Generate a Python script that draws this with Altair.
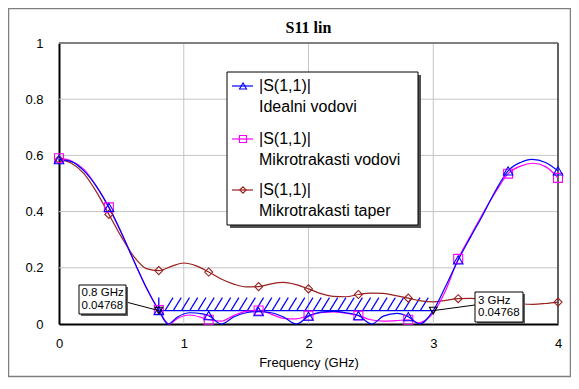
import altair as alt
import pandas as pd

# ---------------- data ----------------
ideal_freq = [0, 0.1, 0.2, 0.3, 0.4, 0.5, 0.6, 0.7, 0.8, 0.876, 0.95, 1.05, 1.15, 1.2,
              1.3, 1.4, 1.5, 1.6, 1.7, 1.8, 1.905, 2.0, 2.1, 2.2, 2.3, 2.4,
              2.507, 2.6, 2.71, 2.8, 2.89, 3.0, 3.1, 3.2, 3.3, 3.4, 3.5, 3.6, 3.7, 3.79, 3.9, 4.0]
ideal_val = [0.585, 0.578, 0.545, 0.49, 0.415, 0.325, 0.225, 0.13, 0.048, 0.0, 0.025, 0.04, 0.036, 0.03,
             0.0, 0.025, 0.04, 0.044, 0.04, 0.025, 0.0, 0.028, 0.042, 0.045, 0.04, 0.03,
             0.0, 0.028, 0.038, 0.026, 0.0, 0.048, 0.135, 0.228, 0.31, 0.39, 0.475, 0.545, 0.575, 0.586, 0.575, 0.545]

micro_freq = [0, 0.1, 0.2, 0.3, 0.4, 0.5, 0.6, 0.7, 0.8, 0.88, 0.95, 1.05, 1.15, 1.2,
              1.3, 1.4, 1.5, 1.6, 1.7, 1.8, 1.9, 2.0, 2.1, 2.2, 2.3, 2.4,
              2.5, 2.6, 2.7, 2.8, 2.88, 2.95, 3.0, 3.1, 3.2, 3.3, 3.4, 3.5, 3.6, 3.7, 3.8, 3.9, 4.0]
micro_val = [0.59, 0.58, 0.55, 0.49, 0.415, 0.325, 0.225, 0.128, 0.05, 0.0, 0.02, 0.032, 0.022, 0.015,
             0.01, 0.03, 0.045, 0.048, 0.035, 0.02, 0.018, 0.03, 0.04, 0.043, 0.038, 0.03,
             0.015, 0.01, 0.012, 0.015, 0.004, 0.018, 0.04, 0.12, 0.232, 0.315, 0.395, 0.47, 0.535, 0.562, 0.572, 0.56, 0.52]

taper_freq = [0, 0.1, 0.2, 0.3, 0.4, 0.5, 0.6, 0.7, 0.8, 0.9, 1.0, 1.1, 1.2, 1.3, 1.4, 1.5, 1.6, 1.7, 1.8, 1.9,
              2.0, 2.1, 2.2, 2.3, 2.4, 2.5, 2.6, 2.7, 2.8, 2.9, 3.0, 3.1, 3.2, 3.3, 3.4, 3.5, 3.6, 3.7, 3.8, 3.9, 4.0]
taper_val = [0.585, 0.572, 0.535, 0.47, 0.39, 0.31, 0.24, 0.197, 0.19, 0.205, 0.217, 0.207, 0.185, 0.16, 0.142,
             0.132, 0.133, 0.143, 0.148, 0.14, 0.125, 0.108, 0.098, 0.097, 0.105, 0.11, 0.109, 0.101, 0.092,
             0.082, 0.079, 0.084, 0.09, 0.091, 0.088, 0.083, 0.077, 0.072, 0.07, 0.073, 0.078]

marker_step = 0.4
marker_freqs = [0.8, 3.0]
marker_vals = [0.04768, 0.04768]
marker_label_top = ["0.8 GHz", "3 GHz"]
marker_label_bottom = ["0.04768", "0.04768"]
hatch_low, hatch_high = 0.04768, 0.094

x_ticks = [0, 1, 2, 3, 4]
y_ticks = [0, 0.2, 0.4, 0.6, 0.8, 1]
x_grid = [1, 2, 3]
y_grid = [0.2, 0.4, 0.6, 0.8]

legend_top = ["|S(1,1)|", "|S(1,1)|", "|S(1,1)|"]
legend_bottom = ["Idealni vodovi", "Mikrotrakasti vodovi", "Mikrotrakasti taper"]

# ---------------- styling ----------------
W, H = 499, 281
FONT = "Liberation Sans"
BLUE, PINK, RED = "#0000ff", "#ff00ff", "#992020"

xs = alt.Scale(domain=[0, 4], nice=False, zero=False)
ys = alt.Scale(domain=[0, 1], nice=False, zero=False)
xaxis = alt.Axis(values=x_ticks, format="~g", title="Frequency (GHz)", labelFontSize=13, titleFontSize=13,
                 titleFontWeight="normal", labelFont=FONT, titleFont=FONT, ticks=False, labelPadding=13,
                 titlePadding=6, labelFlush=False, grid=False, domainColor="#000000", domainWidth=2,
                 labelColor="#000000", titleColor="#000000")
yaxis = alt.Axis(values=y_ticks, format="~g", title="", labelFontSize=13, labelFont=FONT, ticks=False,
                 labelPadding=16, labelFlush=False, grid=False, domainColor="#000000", domainWidth=2,
                 labelColor="#000000")


def X(field="f"):
    return alt.X(f"{field}:Q", scale=xs, axis=xaxis)


def Y(field="v"):
    return alt.Y(f"{field}:Q", scale=ys, axis=yaxis)


one = pd.DataFrame({"k": [0]})

# outer border
border = alt.Chart(one).mark_rect(fill="transparent", stroke="#808080", strokeWidth=1.5).encode(
    x=alt.value(-50.5), x2=alt.value(511.5), y=alt.value(-34.5), y2=alt.value(333.5))

# grid
gx = alt.Chart(pd.DataFrame({"f": x_grid})).mark_rule(color="#c4c4c4", strokeWidth=1).encode(
    x=X(), y=alt.value(0), y2=alt.value(H))
gy = alt.Chart(pd.DataFrame({"v": y_grid})).mark_rule(color="#c4c4c4", strokeWidth=1).encode(
    y=Y(), x=alt.value(0), x2=alt.value(W))
frame_top = alt.Chart(one).mark_rule(color="#808080", strokeWidth=2).encode(
    x=alt.value(0), x2=alt.value(W), y=alt.value(0))
frame_right = alt.Chart(one).mark_rule(color="#606060", strokeWidth=2).encode(
    x=alt.value(W), y=alt.value(0), y2=alt.value(H))

# hatched band
hx0, hx1 = marker_freqs[0], marker_freqs[1]
spacing, slant = 0.066, 0.064
h_rows = []
k = 0
while True:
    a = hx0 + 0.05 + k * spacing
    if a + slant > hx1 + 1e-9:
        break
    h_rows.append({"f": a, "f2": a + slant, "v": hatch_low, "v2": hatch_high})
    k += 1
hatch = alt.Chart(pd.DataFrame(h_rows)).mark_rule(color=BLUE, strokeWidth=1.2).encode(
    x=X(), x2="f2:Q", y=Y(), y2="v2:Q")
band_base = alt.Chart(pd.DataFrame({"f": [hx0], "f2": [hx1], "v": [hatch_low]})).mark_rule(
    color=BLUE, strokeWidth=1.3).encode(x=X(), x2="f2:Q", y=Y())
band_edge = alt.Chart(pd.DataFrame({"f": [hx0], "v": [0.036], "v2": [hatch_high]})).mark_rule(
    color=BLUE, strokeWidth=1.3).encode(x=X(), y=Y(), y2="v2:Q")


def series_layers(freq, val, color, shape, size):
    df = pd.DataFrame({"f": freq, "v": val})
    line = alt.Chart(df).mark_line(color=color, strokeWidth=1.2, interpolate="monotone").encode(x=X(), y=Y())
    mk = df[[abs(f / marker_step - round(f / marker_step)) < 1e-6 for f in df["f"]]]
    pts = alt.Chart(mk).mark_point(shape=shape, size=size, filled=False, color=color, strokeWidth=1.1,
                                   opacity=1).encode(x=X(), y=Y())
    return line, pts


l_ideal, p_ideal = series_layers(ideal_freq, ideal_val, BLUE, "triangle-up", 90)
l_micro, p_micro = series_layers(micro_freq, micro_val, PINK, "square", 80)
l_taper, p_taper = series_layers(taper_freq, taper_val, RED, "diamond", 65)

# markers and annotations
mdf = pd.DataFrame({"f": marker_freqs, "v": marker_vals, "t1": marker_label_top, "t2": marker_label_bottom})
lead1 = alt.Chart(mdf.iloc[[0]]).mark_rule(color="#000000", strokeWidth=1).encode(
    x=X(), y=Y(), x2=alt.value(67), y2=alt.value(259))
lead2 = alt.Chart(mdf.iloc[[1]]).mark_rule(color="#000000", strokeWidth=1).encode(
    x=X(), y=Y(), x2=alt.value(416), y2=alt.value(262))
mpts = alt.Chart(mdf).mark_point(shape="triangle-down", size=60, filled=False, color="#000000",
                                 strokeWidth=1.1, opacity=1).encode(x=X(), y=Y())

boxes = [(20, 67, 242, 271, 22.5), (416, 464, 249, 279, 419)]
box_layers = []
for i, (bx0, bx1, by0, by1, tx) in enumerate(boxes):
    cy = (by0 + by1) / 2
    box_layers.append(alt.Chart(one).mark_rect(fill="#606060").encode(
        x=alt.value(bx0 + 2), x2=alt.value(bx1 + 2), y=alt.value(by0 + 2), y2=alt.value(by1 + 2)))
    box_layers.append(alt.Chart(one).mark_rect(fill="#ffffff", stroke="#000000", strokeWidth=1).encode(
        x=alt.value(bx0), x2=alt.value(bx1), y=alt.value(by0), y2=alt.value(by1)))
    for fld, dy in (("t1", -6.5), ("t2", 6.3)):
        box_layers.append(alt.Chart(mdf.iloc[[i]]).mark_text(
            align="left", baseline="middle", fontSize=11.5, font=FONT, color="#000000").encode(
            x=alt.value(tx), y=alt.value(cy + dy), text=f"{fld}:N"))

# legend
leg = [
    alt.Chart(one).mark_rect(fill="#505050").encode(
        x=alt.value(171), x2=alt.value(362), y=alt.value(32), y2=alt.value(185)),
    alt.Chart(one).mark_rect(fill="#ffffff", stroke="#000000", strokeWidth=1).encode(
        x=alt.value(168), x2=alt.value(359), y=alt.value(29), y2=alt.value(182)),
]
leg_rows = [43, 96, 147]
leg_style = [(BLUE, "triangle-up", 50), (PINK, "square", 50), (RED, "diamond", 40)]
ldf = pd.DataFrame({"a": legend_top, "b": legend_bottom})
for i, ry in enumerate(leg_rows):
    c, s, z = leg_style[i]
    leg.append(alt.Chart(one).mark_rule(color=c, strokeWidth=1.2).encode(
        x=alt.value(173), x2=alt.value(194), y=alt.value(ry)))
    leg.append(alt.Chart(one).mark_point(shape=s, size=z, filled=False, color=c, strokeWidth=1.1,
                                         opacity=1).encode(x=alt.value(184), y=alt.value(ry)))
    leg.append(alt.Chart(ldf.iloc[[i]]).mark_text(align="left", baseline="middle", fontSize=16, font=FONT,
                                                  color="#000000").encode(
        x=alt.value(200), y=alt.value(ry), text="a:N"))
    leg.append(alt.Chart(ldf.iloc[[i]]).mark_text(align="left", baseline="middle", fontSize=16, font=FONT,
                                                  color="#000000").encode(
        x=alt.value(200), y=alt.value(ry + 21), text="b:N"))

title = alt.Chart(pd.DataFrame({"t": ["S11 lin"]})).mark_text(
    font="Liberation Serif", fontWeight="bold", fontSize=16, color="#000000", baseline="middle").encode(
    x=alt.value(W / 2), y=alt.value(-15), text="t:N")

chart = alt.layer(
    border, gx, gy, frame_top, frame_right,
    hatch, band_base, band_edge,
    l_taper, l_micro, l_ideal,
    p_taper, p_micro, p_ideal,
    lead1, lead2, mpts,
    *box_layers, *leg, title,
).properties(
    width=W, height=H,
    autosize=alt.AutoSizeParams(type="none"),
    padding={"left": 51, "top": 35, "right": 13, "bottom": 54},
).configure_view(stroke="transparent")

chart.save("out.html", embed_options={"renderer": "svg", "actions": False})
